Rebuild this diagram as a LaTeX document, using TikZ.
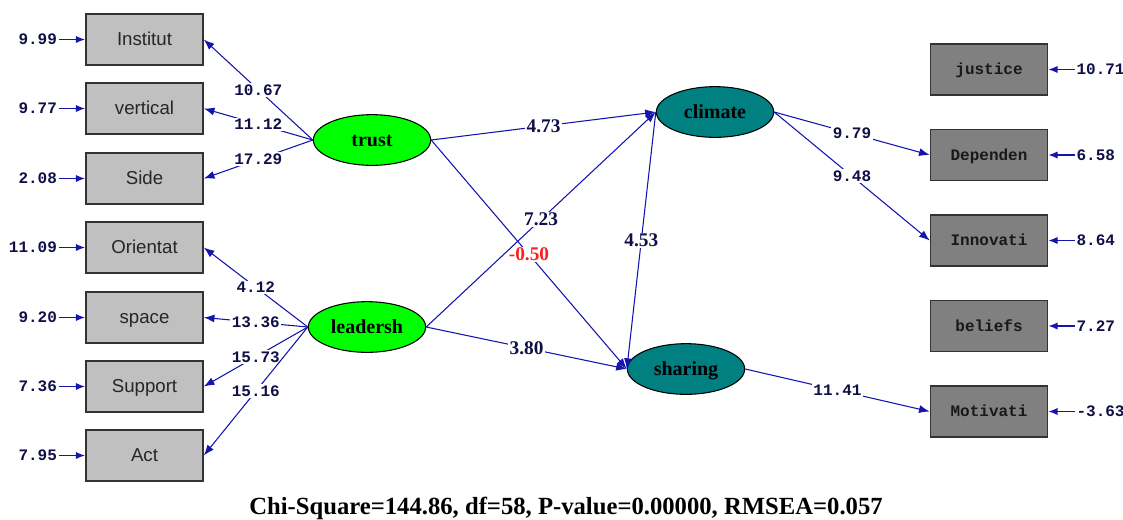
\documentclass[tikz,border=0pt]{standalone}
\usepackage{fontspec}
\setmainfont{Liberation Serif}
\newfontfamily\arialfont{Liberation Sans}
\newfontfamily\courfont{Liberation Mono}
\usetikzlibrary{positioning, calc, arrows.meta, shapes}
\definecolor{pathblue}{RGB}{20,20,175}
\definecolor{numnavy}{RGB}{16,16,70}
\definecolor{obsgray}{RGB}{192,192,192}
\definecolor{endogray}{RGB}{128,128,128}
\definecolor{latgreen}{RGB}{0,255,0}
\definecolor{latteal}{RGB}{0,128,128}
\definecolor{negred}{RGB}{255,30,30}
\tikzset{obs/.style={rectangle, draw=black!80, line width=1.2pt, fill=obsgray, minimum width=87.75pt, minimum height=38.25pt, inner sep=0pt, text height=9.5pt, text depth=0pt, text=black!85, font=\arialfont\fontsize{14}{16}\selectfont}}
\tikzset{endo/.style={obs, fill=endogray, text height=7.5pt, text=black!90, font=\courfont\bfseries\fontsize{12}{14}\selectfont}}
\tikzset{latent/.style={ellipse, draw=black, line width=0.8pt, inner sep=0pt, minimum width=88pt, minimum height=38pt, text height=10pt, text depth=0pt, font=\bfseries\fontsize{15}{17}\selectfont}}
\tikzset{errlbl/.style={inner sep=1pt, text=numnavy, font=\courfont\bfseries\fontsize{12}{14}\selectfont}}
\tikzset{coef/.style={fill=white, inner sep=1pt, text=numnavy, font=\courfont\bfseries\fontsize{12}{14}\selectfont}}
\tikzset{bcoef/.style={fill=white, inner sep=1pt, text=numnavy, font=\bfseries\fontsize{14.5}{16}\selectfont}}
\tikzset{link/.style={draw=pathblue, line width=0.8pt, -{Latex[length=8pt,width=6pt]}}}
\tikzset{errarr/.style={draw=pathblue, line width=1.1pt, -{Latex[length=7pt,width=5.5pt]}}}

\begin{document}
\begin{tikzpicture}[x=0.75pt, y=-0.75pt]
      \useasboundingbox (0,0) rectangle (1123,519);

      % indicators of trust and leadersh
      \node[obs] (inst) at (144.5,39.5) {Institut};
      \node[obs] (vert) at (144.5,108.5) {vertical};
      \node[obs] (side) at (144.5,178.5) {Side};
      \node[obs] (orie) at (144.5,247.5) {Orientat};
      \node[obs] (spac) at (144.5,317.5) {space};
      \node[obs] (supp) at (144.5,386.5) {Support};
      \node[obs] (act) at (144.5,455.5) {Act};

      \node[errlbl, left=20pt of inst] (einst) {9.99};
      \node[errlbl, left=20pt of vert] (evert) {9.77};
      \node[errlbl, left=20pt of side] (eside) {2.08};
      \node[errlbl, left=20pt of orie] (eorie) {11.09};
      \node[errlbl, left=20pt of spac] (espac) {9.20};
      \node[errlbl, left=20pt of supp] (esupp) {7.36};
      \node[errlbl, left=20pt of act] (eact) {7.95};
      \draw[errarr] (einst) -- (inst);
      \draw[errarr] (evert) -- (vert);
      \draw[errarr] (eside) -- (side);
      \draw[errarr] (eorie) -- (orie);
      \draw[errarr] (espac) -- (spac);
      \draw[errarr] (esupp) -- (supp);
      \draw[errarr] (eact) -- (act);

      % latent variables
      \node[latent, fill=latgreen] (trust) at (372,140) {trust};
      \node[latent, fill=latgreen] (lead) at (367,327) {leadersh};
      \node[latent, fill=latteal] (clim) at (715,112) {climate};
      \node[latent, fill=latteal] (shar) at (686,369) {sharing};

      % indicators of climate and sharing
      \node[endo] (just) at (989,69.5) {justice};
      \node[endo] (depe) at (989,155) {Dependen};
      \node[endo] (inno) at (989,240.5) {Innovati};
      \node[endo] (beli) at (989,326) {beliefs};
      \node[endo] (moti) at (989,411.5) {Motivati};

      \node[errlbl, right=20pt of just] (ejust) {10.71};
      \node[errlbl, right=20pt of depe] (edepe) {6.58};
      \node[errlbl, right=20pt of inno] (einno) {8.64};
      \node[errlbl, right=20pt of beli] (ebeli) {7.27};
      \node[errlbl, right=20pt of moti] (emoti) {-3.63};
      \draw[errarr] (ejust) -- (just);
      \draw[errarr] (edepe) -- (depe);
      \draw[errarr] (einno) -- (inno);
      \draw[errarr] (ebeli) -- (beli);
      \draw[errarr] (emoti) -- (moti);

      % loadings
      \draw[link] (trust.west) -- node[coef] {10.67} (inst.east);
      \draw[link] (trust.west) -- node[coef] {11.12} (vert.east);
      \draw[link] (trust.west) -- node[coef] {17.29} (side.east);
      \draw[link] (lead.west) -- node[coef] {4.12} (orie.east);
      \draw[link] (lead.west) -- node[coef] {13.36} (spac.east);
      \draw[link] (lead.west) -- node[coef] {15.73} (supp.east);
      \draw[link] (lead.west) -- node[coef] {15.16} (act.east);
      \draw[link] (clim.east) -- node[coef] {9.79} (depe.west);
      \draw[link] (clim.east) -- node[coef] {9.48} (inno.west);
      \draw[link] (shar.east) -- node[coef] {11.41} (moti.west);

      % structural paths
      \draw[link] (trust.east) -- node[bcoef] {4.73} (clim.west);
      \draw[link] (trust.east) -- node[bcoef, text=negred] {-0.50} (shar.west);
      \draw[link] (lead.east) -- node[bcoef] {7.23} (clim.west);
      \draw[link] (lead.east) -- node[bcoef] {3.80} (shar.west);
      \draw[link] (clim.west) -- node[bcoef] {4.53} (shar.west);

      \node[font=\bfseries\fontsize{18.5}{20}\selectfont] (fit) at (566,508) {Chi-Square=144.86, df=58, P-value=0.00000, RMSEA=0.057};
\end{tikzpicture}
\end{document}
